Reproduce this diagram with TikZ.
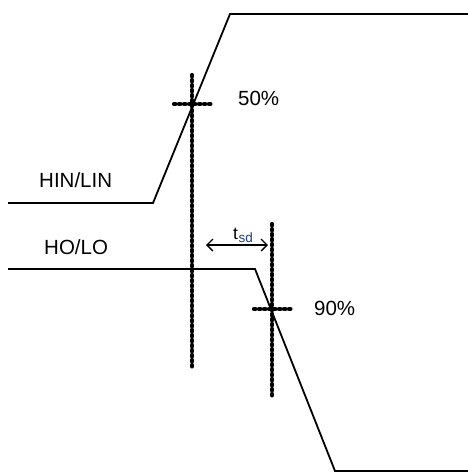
\documentclass[tikz,border=0pt]{standalone}
\usepackage{fontspec}
\setmainfont{Liberation Sans}
\usetikzlibrary{arrows.meta}
\definecolor{tsdblue}{RGB}{30,60,120}
\tikzset{
  signal/.style={line width=1.8pt, line join=miter},
  dotline/.style={line width=4.2pt, line cap=round, dash pattern=on 1.4pt off 3.6pt},
  lbl/.style={font=\fontsize{20.5}{24}\selectfont, inner sep=0pt, anchor=base west},
  meas/.style={line width=1.3pt, {Straight Barb[length=6pt,width=12pt]}-{Straight Barb[length=6pt,width=12pt]}}
}
\begin{document}
\begin{tikzpicture}[x=1pt,y=-1pt]
\useasboundingbox (0,0) rectangle (468,474);
% input signal
\coordinate (i0) at (8,203);
\coordinate (i1) at (153,203);
\coordinate (i2) at (230,14);
\coordinate (i3) at (468,14);
\draw[signal] (i0) -- (i1) -- (i2) -- (i3);
% output signal
\coordinate (o0) at (8,269);
\coordinate (o1) at (255,269);
\coordinate (o2) at (335,471);
\coordinate (o3) at (468,471);
\draw[signal] (o0) -- (o1) -- (o2) -- (o3);
% 50% marker
\coordinate (v1t) at (192,75);
\coordinate (v1b) at (192,368);
\coordinate (h1l) at (174,104);
\coordinate (h1r) at (211,104);
\draw[dotline] (v1t) -- (v1b);
\draw[dotline] (h1l) -- (h1r);
% 90% marker
\coordinate (v2t) at (272,224);
\coordinate (v2b) at (272,396);
\coordinate (h2l) at (254,309);
\coordinate (h2r) at (291,309);
\draw[dotline] (v2t) -- (v2b);
\draw[dotline] (h2l) -- (h2r);
% delay arrow
\coordinate (a1) at (206,245);
\coordinate (a2) at (268,245);
\draw[meas] (a1) -- (a2);
% labels
\node[lbl] (p50) at (238,105) {50\%};
\node[lbl] (p90) at (314,315) {90\%};
\node[lbl] (hin) at (39,187) {HIN/LIN};
\node[lbl] (ho) at (44,254) {HO/LO};
\node[inner sep=0pt, anchor=base west, font=\fontsize{17.5}{20}\selectfont] (tsd) at (233,239) {t\kern0.5pt\raisebox{-3pt}{\fontsize{13.5}{15}\selectfont\color{tsdblue}sd}};
\end{tikzpicture}
\end{document}
